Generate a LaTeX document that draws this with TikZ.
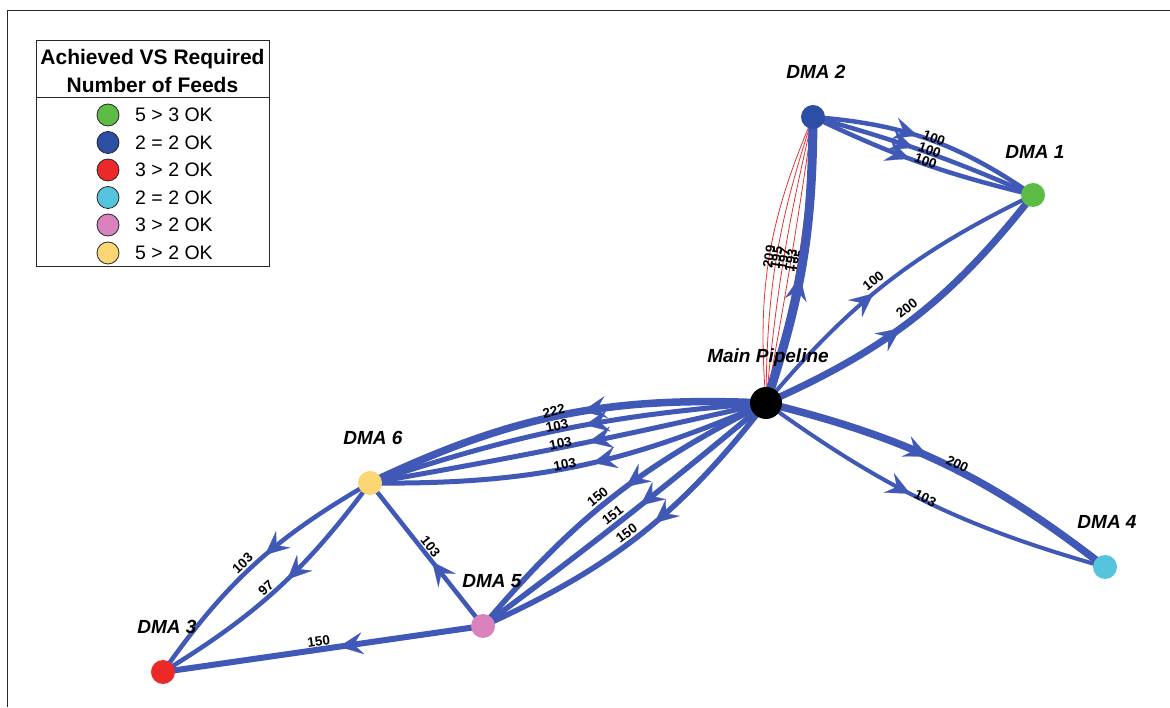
\documentclass[tikz,border=0pt]{standalone}
\usepackage{fontspec}
\setmainfont{Liberation Sans}
\usetikzlibrary{arrows.meta,decorations.markings,backgrounds}
\definecolor{eb}{RGB}{64,88,182}
\definecolor{cDtwo}{RGB}{44,78,164}
\definecolor{cDone}{RGB}{92,188,70}
\definecolor{cDthree}{RGB}{237,40,40}
\definecolor{cDfour}{RGB}{86,196,220}
\definecolor{cDfive}{RGB}{218,130,190}
\definecolor{cDsix}{RGB}{252,214,115}
\definecolor{redl}{RGB}{232,50,50}
\definecolor{framec}{RGB}{40,40,40}
\tikzset{
  gdot/.style={circle, inner sep=0pt, minimum size=#1, draw=none},
  ldot/.style={circle, inner sep=0pt, minimum size=22pt, draw=framec, line width=0.8pt},
  nlab/.style={font=\fontsize{19}{19}\selectfont\bfseries\itshape, inner sep=0pt},
  ltitle/.style={font=\fontsize{21}{21}\selectfont\bfseries, inner sep=0pt},
  ltext/.style={font=\fontsize{19.5}{19.5}\selectfont, inner sep=0pt, anchor=west},
  elab/.style={font=\fontsize{13.5}{13.5}\selectfont\bfseries, inner sep=0pt, sloped, above=0pt},
  rlab/.style={font=\fontsize{13.5}{13.5}\selectfont\bfseries, inner sep=0pt, sloped, pos=0.5},
  redline/.style={draw=redl, line width=0.8pt},
  flow/.style={draw=eb, line width=#1, postaction={decorate},
    decoration={markings, mark=at position 0.45 with {\arrow{Stealth[length=24pt,width=22pt,inset=9pt,line width=0.2pt,color=eb]}}}},
}
\begin{document}
\begin{tikzpicture}[x=1pt,y=1pt]
\useasboundingbox (0,0) rectangle (1170,707);
% frame
\draw[framec, line width=1.3pt] (7.5,0) -- (7.5,696.3) -- (1170,696.3);
% legend
\draw[framec, line width=1pt] (36,440) rectangle (269,666);
\draw[framec, line width=1pt] (36,609) -- (269,609);
\node[ltitle] (lt1) at (152.5,648) {Achieved VS Required};
\node[ltitle] (lt2) at (152.5,622) {Number of Feeds};
\node[ldot, fill=cDone]   (k1) at (108,592) {};
\node[ldot, fill=cDtwo]   (k2) at (108,564.5) {};
\node[ldot, fill=cDthree] (k3) at (108,537) {};
\node[ldot, fill=cDfour]  (k4) at (108,509.5) {};
\node[ldot, fill=cDfive]  (k5) at (108,482) {};
\node[ldot, fill=cDsix]   (k6) at (108,454) {};
\node[ltext] (t1) at (135,592) {5 > 3 OK};
\node[ltext] (t2) at (135,564.5) {2 = 2 OK};
\node[ltext] (t3) at (135,537) {3 > 2 OK};
\node[ltext] (t4) at (135,509.5) {2 = 2 OK};
\node[ltext] (t5) at (135,482) {3 > 2 OK};
\node[ltext] (t6) at (135,454) {5 > 2 OK};
% graph nodes
\node[gdot=32pt, fill=black]   (m)  at (766,304) {};
\node[gdot=24pt, fill=cDtwo]   (d2) at (813,590) {};
\node[gdot=24pt, fill=cDone]   (d1) at (1033,512) {};
\node[gdot=24pt, fill=cDfour]  (d4) at (1105,140) {};
\node[gdot=24pt, fill=cDsix]   (d6) at (370,224) {};
\node[gdot=24pt, fill=cDfive]  (d5) at (483,81) {};
\node[gdot=24pt, fill=cDthree] (d3) at (163,35) {};
% node labels
\node[nlab] (lm) at (768,349) {Main Pipeline};
\node[nlab] (l2) at (816,635) {DMA 2};
\node[nlab] (l1) at (1035,555) {DMA 1};
\node[nlab] (l4) at (1107,185) {DMA 4};
\node[nlab] (l6) at (373,269) {DMA 6};
\node[nlab] (l5) at (492,126) {DMA 5};
\node[nlab] (l3) at (167,80) {DMA 3};
\begin{pgfonlayer}{background}
% Main -> DMA2
\draw[redline] (m.center) to[bend left=14] node[rlab]{209} (d2.center);
\draw[redline] (m.center) to[bend left=9] node[rlab]{195} (d2.center);
\draw[redline] (m.center) to[bend left=4] node[rlab]{197} (d2.center);
\draw[redline] (m.center) to[bend right=1] node[rlab]{193} (d2.center);
\draw[redline] (m.center) to[bend right=6] node[rlab]{185} (d2.center);
\draw[flow=9pt] (m.center) to[bend right=9] (d2.center);
% DMA2 -> DMA1
\draw[flow=4.5pt] (d2.center) to[bend left=15] node[elab,pos=0.52,above=-4pt]{100} (d1.center);
\draw[flow=4.5pt] (d2.center) to[bend left=4] node[elab,pos=0.52,above=-4pt]{100} (d1.center);
\draw[flow=4.5pt] (d2.center) to[bend right=6] node[elab,pos=0.52,above=-4pt]{100} (d1.center);
% Main -> DMA1
\draw[flow=4pt] (m.center) to[bend left=12] node[elab,pos=0.47,above=3pt]{100} (d1.center);
\draw[flow=7pt] (m.center) to[bend right=14] node[elab,pos=0.5,above=4pt]{200} (d1.center);
% Main -> DMA4
\draw[flow=7.5pt] (m.center) to[bend left=12] node[elab,pos=0.53,above=-3pt]{200} (d4.center);
\draw[flow=4pt] (m.center) to[bend right=10] node[elab,pos=0.49,above=-4pt]{103} (d4.center);
% Main -> DMA6
\draw[flow=7.5pt] (m.center) to[bend right=14] node[elab,pos=0.52,above=-3pt]{222} (d6.center);
\draw[flow=5pt] (m.center) to[bend right=7] node[elab,pos=0.52,above=-3pt]{103} (d6.center);
\draw[flow=5pt] (m.center) to[bend left=1.5] node[elab,pos=0.52,above=-3pt]{103} (d6.center);
\draw[flow=5pt] (m.center) to[bend left=12] node[elab,pos=0.52,above=-3pt]{103} (d6.center);
% Main -> DMA5
\draw[flow=5.5pt] (m.center) to[bend right=11.5] node[elab,pos=0.53,above=2pt]{150} (d5.center);
\draw[flow=5.5pt] (m.center) to[bend left=1.5] node[elab,pos=0.53,above=2pt]{151} (d5.center);
\draw[flow=5.5pt] (m.center) to[bend left=14] node[elab,pos=0.53,above=2pt]{150} (d5.center);
% DMA6 -> DMA3
\draw[flow=4.5pt] (d6.center) to[bend right=12.5] node[elab,pos=0.53,above=2pt]{103} (d3.center);
\draw[flow=4.5pt] (d6.center) to[bend left=11] node[elab,pos=0.53,above=1pt]{97} (d3.center);
% DMA5 -> DMA6
\draw[flow=4.5pt] (d5.center) -- node[elab,pos=0.52,above=1pt]{103} (d6.center);
% DMA5 -> DMA3
\draw[flow=6pt] (d5.center) -- node[elab,pos=0.51,above=0pt]{150} (d3.center);
\end{pgfonlayer}
\end{tikzpicture}
\end{document}
